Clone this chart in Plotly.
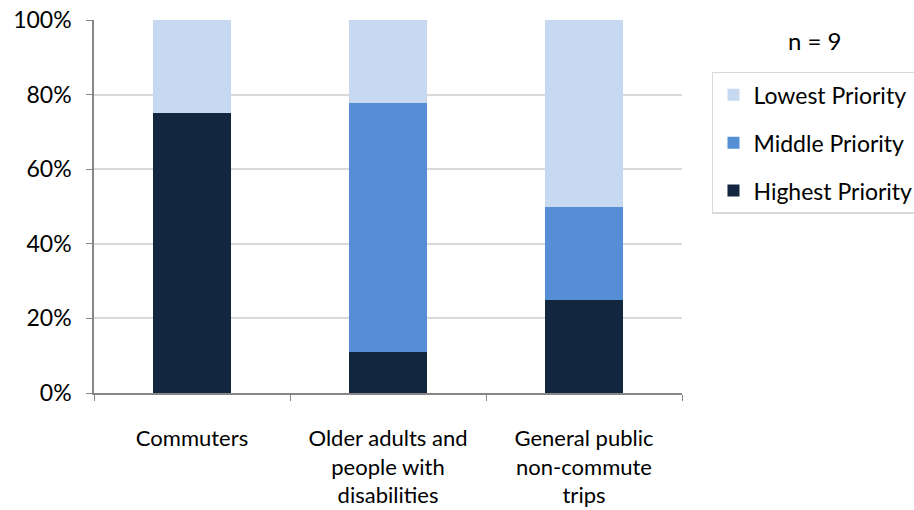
import plotly.graph_objects as go

categories = ["Commuters", "Older adults and<br>people with<br>disabilities", "General public<br>non-commute<br>trips"]
highest = [0.75, 1/9, 0.25]
middle = [0.0, 6/9, 0.25]
lowest = [0.25, 2/9, 0.50]
series_names = ["Highest Priority", "Middle Priority", "Lowest Priority"]
legend_ranks = [3, 2, 1]
colors = ["#13263F", "#558ED5", "#C6D9F1"]
y_ticks = [0, 0.2, 0.4, 0.6, 0.8, 1.0]
y_tick_labels = ["0%", "20%", "40%", "60%", "80%", "100%"]

FONT = "Lato"
fig = go.Figure()
for name, vals, c, rk in zip(series_names, [highest, middle, lowest], colors, legend_ranks):
    fig.add_trace(go.Bar(x=categories, y=vals, name=name, legendgroup=name, legendrank=rk,
                         marker=dict(color=c, line=dict(width=0))))

fig.update_layout(
    barmode="stack",
    bargap=0.607,
    width=914, height=510,
    margin=dict(l=94, r=232, t=20, b=117, autoexpand=False),
    plot_bgcolor="white", paper_bgcolor="white",
    font=dict(family=FONT, size=22, color="#000000"),
    showlegend=True,
    legend=dict(
        traceorder="grouped",
        x=1.051, y=0.861, xanchor="left", yanchor="top",
        bordercolor="#D9D9D9", borderwidth=1.5,
        font=dict(family=FONT, size=23),
        tracegroupgap=15,
    ),
    annotations=[dict(
        text="n = 9", x=1.226, y=0.946, xref="paper", yref="paper",
        showarrow=False, font=dict(family=FONT, size=24), xanchor="center", yanchor="middle")],
)
fig.update_xaxes(
    showline=True, linecolor="#868686", linewidth=1.5,
    tickson="boundaries", ticks="outside", ticklen=6, tickcolor="#868686",
    ticklabelstandoff=25, showgrid=False, automargin=False,
)
fig.update_yaxes(
    range=[0, 1], tickvals=y_ticks, ticktext=y_tick_labels,
    tickfont=dict(size=23),
    showline=True, linecolor="#868686", linewidth=1.5,
    ticks="outside", ticklen=6, tickcolor="#868686",
    ticklabelstandoff=10,
    showgrid=True, gridcolor="#D9D9D9", gridwidth=1.5,
    zeroline=False, automargin=False,
)
fig.write_html("out.html", config={"displayModeBar": False},
               post_script="document.body.style.margin='0px';")
